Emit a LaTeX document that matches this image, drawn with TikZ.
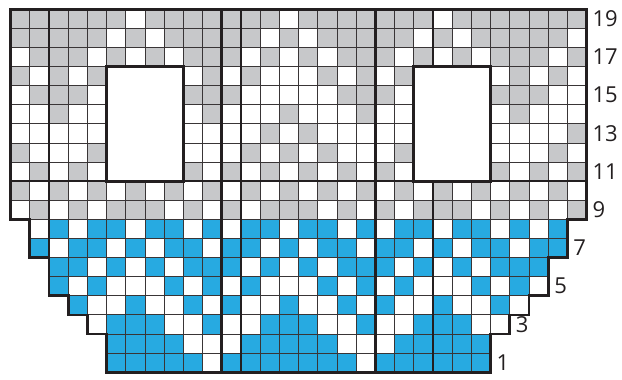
\documentclass[tikz,border=0pt]{standalone}
\usepackage{fontspec}
\setmainfont{Open Sans}
\definecolor{knitgray}{HTML}{C7C8CA}
\definecolor{knitblue}{HTML}{27AAE1}
\definecolor{inkline}{HTML}{231F20}
\tikzset{
  graycell/.style={fill=knitgray},
  bluecell/.style={fill=knitblue},
  gridline/.style={draw=inkline!90, line width=0.9pt, step=1},
  midline/.style={draw=inkline, line width=1.7pt},
  heavyline/.style={draw=inkline, line width=2.8pt},
  rowlabel/.style={anchor=west, inner sep=0pt, text=inkline, font=\fontsize{22}{22}\selectfont}
}

\begin{document}
\begin{tikzpicture}[x=19.2pt, y=19.1pt]
  \useasboundingbox (-0.557,-0.356) rectangle (31.839,19.487);
  % background colour cells
  \foreach \r/\cols in {19/{1,2,3,4,5,6,8,9,10,11,12,13,14,16,17,18,19,20,21,22,24,25,26,27,28,29,30},
      18/{1,2,3,4,5,7,9,10,11,12,13,15,17,18,19,20,21,23,25,26,27,28,29},
      17/{2,3,4,6,8,10,11,12,14,16,18,19,20,22,24,26,27,28,30},
      16/{1,3,5,11,13,17,19,21,27,29},
      15/{2,3,4,10,11,12,18,19,20,26,27,28},
      14/{3,11,15,19,27},
      13/{14,16,30},
      12/{1,5,13,15,17,21,29},
      11/{2,4,10,12,14,16,18,20,26,28,30},
      10/{1,3,5,7,9,11,13,15,17,19,21,23,25,27,29},
      9/{2,4,6,7,8,10,12,14,15,16,18,20,22,23,24,26,28,30}}
    \foreach \c in \cols
      \fill[graycell] (\c-1,\r-1) rectangle (\c,\r);
  % contrast colour cells
  \foreach \r/\cols in {8/{3,5,6,8,9,11,13,14,16,17,19,21,22,24,25,27,29},
      7/{2,4,5,7,9,10,12,13,15,17,18,20,21,23,25,26,28,29},
      6/{3,4,6,8,10,11,12,14,16,18,19,20,22,24,26,27,28},
      5/{3,5,9,11,13,17,19,21,25,27},
      4/{4,7,10,12,15,18,20,23,26},
      3/{6,7,8,11,14,15,16,19,22,23,24},
      2/{6,7,8,9,13,14,15,16,17,21,22,23,24,25},
      1/{6,7,8,9,10,12,13,14,15,16,17,18,20,21,22,23,24,25}}
    \foreach \c in \cols
      \fill[bluecell] (\c-1,\r-1) rectangle (\c,\r);
  % grid, row by row
  \foreach \r/\a/\b in {1/6/25,2/6/25,3/5/26,4/4/27,5/3/28,6/3/28,7/2/29,8/2/29,
      9/1/30,10/1/30,11/1/30,12/1/30,13/1/30,14/1/30,15/1/30,16/1/30,17/1/30,18/1/30,19/1/30}
    \draw[gridline] (\a-1,\r-1) grid (\b,\r);
  % repeat marks
  \draw[midline] (0,10) -- (30,10);
  \draw[midline] (12,0) -- (12,19);
  \draw[midline] (2,4) -- (2,19);
  \draw[midline] (22,0) -- (22,10);
  \draw[midline] (22,16) -- (22,19);
  % pockets
  \fill[white] (5,10) rectangle (9,16);
  \fill[white] (21,10) rectangle (25,16);
  \draw[heavyline] (5,10) rectangle (9,16);
  \draw[heavyline] (21,10) rectangle (25,16);
  % section rules
  \draw[heavyline] (11,0) -- (11,19);
  \draw[heavyline] (19,0) -- (19,19);
  % outline
  \draw[heavyline] (0,19) -- (30,19) -- (30,8) -- (29,8) -- (29,6) -- (28,6) -- (28,4)
    -- (27,4) -- (27,3) -- (26,3) -- (26,2) -- (25,2) -- (25,0) -- (5,0) -- (5,2)
    -- (4,2) -- (4,3) -- (3,3) -- (3,4) -- (2,4) -- (2,6) -- (1,6) -- (1,8) -- (0,8) -- cycle;
  % row numbers
  \foreach \r/\e in {1/25,3/26,5/28,7/29,9/30,11/30,13/30,15/30,17/30,19/30}
    \node[rowlabel] (row\r) at (\e+0.3,\r-0.5) {\r};
\end{tikzpicture}
\end{document}
